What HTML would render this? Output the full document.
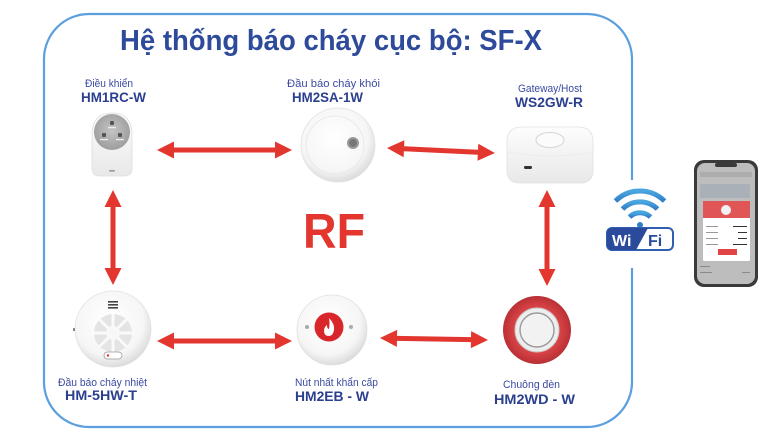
<!DOCTYPE html>
<html><head><meta charset="utf-8"><style>
html,body{margin:0;padding:0;background:#fff;}
svg{display:block;}
text{font-family:"Liberation Sans","DejaVu Sans",sans-serif;}
</style></head><body>
<svg width="771" height="434" viewBox="0 0 771 434" xmlns="http://www.w3.org/2000/svg">
<defs>
<radialGradient id="wg" cx="45%" cy="40%" r="60%"><stop offset="0" stop-color="#ffffff"/><stop offset="0.75" stop-color="#f6f6f6"/><stop offset="1" stop-color="#dcdcdc"/></radialGradient>
<radialGradient id="gg" cx="50%" cy="45%" r="60%"><stop offset="0" stop-color="#c4c4c4"/><stop offset="1" stop-color="#9a9a9a"/></radialGradient>
<radialGradient id="rg" cx="50%" cy="50%" r="50%"><stop offset="0.6" stop-color="#e0484a"/><stop offset="1" stop-color="#b83035"/></radialGradient>
<linearGradient id="gw" x1="0" y1="0" x2="0" y2="1"><stop offset="0" stop-color="#fdfdfd"/><stop offset="1" stop-color="#e8e8e8"/></linearGradient>
<linearGradient id="wf" x1="0" y1="0" x2="0" y2="1"><stop offset="0" stop-color="#4aa6e0"/><stop offset="1" stop-color="#2f7fc8"/></linearGradient>
<g id="arr"><polygon points="0,0 17,-8.5 17,-2.6 0,-2.6" fill="#e2362f"/></g>
</defs>

<!-- border -->
<path d="M632,180 L632,59 A45,45 0 0 0 587,14 L89,14 A45,45 0 0 0 44,59 L44,382 A45,45 0 0 0 89,427 L587,427 A45,45 0 0 0 632,382 L632,268" fill="none" stroke="#5b9fde" stroke-width="2.2"/>

<!-- title -->
<text x="120" y="50" font-size="29" font-weight="bold" fill="#2e4b9b" textLength="422" lengthAdjust="spacingAndGlyphs">Hệ thống báo cháy cục bộ: SF-X</text>

<!-- labels -->
<g fill="#3b4aa0" font-size="11">
<text x="85" y="87" textLength="48" lengthAdjust="spacingAndGlyphs">Điều khiển</text>
<text x="287" y="87" textLength="93" lengthAdjust="spacingAndGlyphs">Đầu báo cháy khói</text>
<text x="518" y="92" textLength="64" lengthAdjust="spacingAndGlyphs">Gateway/Host</text>
<text x="58" y="386" textLength="89" lengthAdjust="spacingAndGlyphs">Đầu báo cháy nhiệt</text>
<text x="295" y="386" textLength="83" lengthAdjust="spacingAndGlyphs">Nút nhất khẩn cấp</text>
<text x="503" y="388" textLength="57" lengthAdjust="spacingAndGlyphs">Chuông đèn</text>
</g>
<g fill="#2b3f8f" font-size="14" font-weight="bold">
<text x="81" y="102" textLength="65" lengthAdjust="spacingAndGlyphs">HM1RC-W</text>
<text x="292" y="102" textLength="71" lengthAdjust="spacingAndGlyphs">HM2SA-1W</text>
<text x="515" y="107" textLength="68" lengthAdjust="spacingAndGlyphs">WS2GW-R</text>
<text x="65" y="400" textLength="72" lengthAdjust="spacingAndGlyphs">HM-5HW-T</text>
<text x="295" y="401" textLength="74" lengthAdjust="spacingAndGlyphs">HM2EB - W</text>
<text x="494" y="404" textLength="81" lengthAdjust="spacingAndGlyphs">HM2WD - W</text>
</g>

<!-- RF -->
<text x="303" y="248" font-size="49" font-weight="bold" fill="#e2362f" textLength="62" lengthAdjust="spacingAndGlyphs">RF</text>

<!-- arrows -->
<g fill="#e2362f">
<polygon points="157,150 174,141.5 174,147.5 275,147.5 275,141.5 292,150 275,158.5 275,152.5 174,152.5 174,158.5"/>
<polygon points="157,341 174,332.5 174,338.5 275,338.5 275,332.5 292,341 275,349.5 275,343.5 174,343.5 174,349.5"/>
<g transform="translate(387,148) rotate(2.65)"><polygon points="0,0 17,-8.5 17,-2.5 91,-2.5 91,-8.5 108,0 91,8.5 91,2.5 17,2.5 17,8.5"/></g>
<g transform="translate(380,338) rotate(1.06)"><polygon points="0,0 17,-8.5 17,-2.5 91,-2.5 91,-8.5 108,0 91,8.5 91,2.5 17,2.5 17,8.5"/></g>
<polygon points="113,190 121.5,207 115.5,207 115.5,268 121.5,268 113,285 104.5,268 110.5,268 110.5,207 104.5,207"/>
<polygon points="547,190 555.5,207 549.5,207 549.5,269 555.5,269 547,286 538.5,269 544.5,269 544.5,207 538.5,207"/>
</g>

<!-- remote HM1RC-W -->
<path d="M92,135 Q92,113 112,113 Q132,113 132,135 L132,168 Q132,176 124,176 L100,176 Q92,176 92,168 Z" fill="url(#gw)" stroke="#dcdcdc" stroke-width="0.8"/>
<circle cx="112" cy="132" r="18" fill="url(#gg)"/>
<g fill="#555"><rect x="110" y="121" width="4" height="4" rx="1"/><rect x="102" y="133" width="4" height="4" rx="1"/><rect x="118" y="133" width="4" height="4" rx="1"/></g>
<g fill="#eee"><rect x="108" y="127" width="8" height="1.2"/><rect x="100" y="139" width="8" height="1.2"/><rect x="116" y="139" width="8" height="1.2"/></g>
<rect x="109" y="170" width="6" height="1.6" rx="0.8" fill="#999"/>

<!-- smoke detector -->
<circle cx="338" cy="145" r="37" fill="url(#wg)" stroke="#e2e2e2" stroke-width="0.8"/>
<circle cx="335" cy="145" r="29" fill="none" stroke="#e6e6e6" stroke-width="0.8"/>
<circle cx="353" cy="143" r="6" fill="#9a9a9a"/>
<circle cx="353" cy="143" r="4" fill="#777"/>

<!-- gateway -->
<path d="M507,142 Q507,127 522,127 L578,127 Q593,127 593,142 L593,170 Q593,183 580,183 L520,183 Q507,183 507,170 Z" fill="url(#gw)" stroke="#e0e0e0" stroke-width="0.8"/>
<path d="M508,152 Q550,160 592,152" fill="none" stroke="#ececec" stroke-width="1"/>
<ellipse cx="550" cy="140" rx="14" ry="7.5" fill="#fbfbfb" stroke="#d4d4d4" stroke-width="1"/>
<rect x="524" y="166" width="8" height="3" rx="1.2" fill="#333"/>

<!-- heat detector -->
<circle cx="113" cy="329" r="38" fill="url(#wg)" stroke="#e0e0e0" stroke-width="0.8"/>
<circle cx="113" cy="333" r="19" fill="#e4e4e4"/>
<g stroke="#fafafa" stroke-width="3">
<line x1="113" y1="314" x2="113" y2="352"/><line x1="94" y1="333" x2="132" y2="333"/>
<line x1="99.5" y1="319.5" x2="126.5" y2="346.5"/><line x1="126.5" y1="319.5" x2="99.5" y2="346.5"/>
</g>
<circle cx="113" cy="333" r="7" fill="#f8f8f8"/>
<g fill="#444"><rect x="108" y="301" width="10" height="1.6"/><rect x="108" y="304" width="10" height="1.6"/><rect x="108" y="307" width="10" height="1.6"/></g>
<rect x="104" y="352" width="18" height="7" rx="3.5" fill="#fff" stroke="#999" stroke-width="0.8"/>
<circle cx="108" cy="355.5" r="1.2" fill="#e2362f"/>
<rect x="73" y="328" width="2" height="3" fill="#888"/>

<!-- emergency button -->
<circle cx="332" cy="330" r="35" fill="url(#wg)" stroke="#e0e0e0" stroke-width="0.8"/>
<circle cx="329" cy="327" r="14.5" fill="#d8262a"/>
<path d="M329,318 Q335,324 334,330 Q333,336 329,336 Q324,336 324,331 Q324,327 327,325 Q327,329 329,329 Q330,323 329,318 Z" fill="#fff"/>
<g fill="#aaa"><circle cx="307" cy="327" r="2"/><circle cx="351" cy="327" r="2"/></g>

<!-- bell -->
<circle cx="537" cy="330" r="34" fill="url(#rg)"/>
<circle cx="537" cy="330" r="22" fill="#eeeeee" stroke="#c8c8c8" stroke-width="1"/>
<circle cx="537" cy="330" r="17" fill="#f2f2f2" stroke="#9a9a9a" stroke-width="1.4"/>

<!-- wifi icon -->
<g fill="none" stroke="url(#wf)" stroke-width="5" stroke-linecap="butt">
<path d="M615.5,201 A35,35 0 0 1 664.5,201"/>
<path d="M622.5,209 A25,25 0 0 1 657.5,209"/>
<path d="M629.5,217 A15,15 0 0 1 650.5,217"/>
</g>
<circle cx="640" cy="225" r="3.5" fill="#2f7fc8" stroke="#fff" stroke-width="1"/>
<rect x="607" y="228" width="66" height="22" rx="5" fill="#fff" stroke="#2f5fb0" stroke-width="2"/>
<path d="M612,228 L648,228 L636,250 L612,250 Q607,250 607,245 L607,233 Q607,228 612,228 Z" fill="#2a4a9c"/>
<text x="612" y="246" font-size="16" font-weight="bold" fill="#fff">Wi</text>
<text x="648" y="246" font-size="16" font-weight="bold" fill="#2a4a9c">Fi</text>

<!-- phone -->
<rect x="694" y="160" width="64" height="127" rx="10" fill="#3a3a3a"/>
<rect x="697" y="163" width="58" height="121" rx="8" fill="#bdbdbd"/>
<rect x="715" y="163" width="22" height="4" rx="2" fill="#3a3a3a"/>
<rect x="700" y="172" width="52" height="5" fill="#adadad"/>
<rect x="700" y="184" width="50" height="14" fill="#a9b0b8"/>
<rect x="703" y="201" width="47" height="60" rx="1.5" fill="#fff"/>
<rect x="703" y="201" width="47" height="17" fill="#e05555"/>
<circle cx="726" cy="210" r="5" fill="#f2f2f2"/>
<g fill="#999"><rect x="706" y="226" width="12" height="1"/><rect x="706" y="232" width="12" height="1"/><rect x="706" y="238" width="12" height="1"/><rect x="706" y="244" width="12" height="1"/></g>
<g fill="#333"><rect x="733" y="226" width="14" height="1"/><rect x="738" y="232" width="9" height="1"/><rect x="738" y="238" width="9" height="1"/><rect x="733" y="244" width="14" height="1"/></g>
<rect x="718" y="249" width="19" height="6" fill="#e04444"/>
<g fill="#8a8a8a"><rect x="700" y="266" width="10" height="1"/><rect x="700" y="272" width="12" height="1"/><rect x="742" y="272" width="8" height="1"/></g>
</svg>
</body></html>
